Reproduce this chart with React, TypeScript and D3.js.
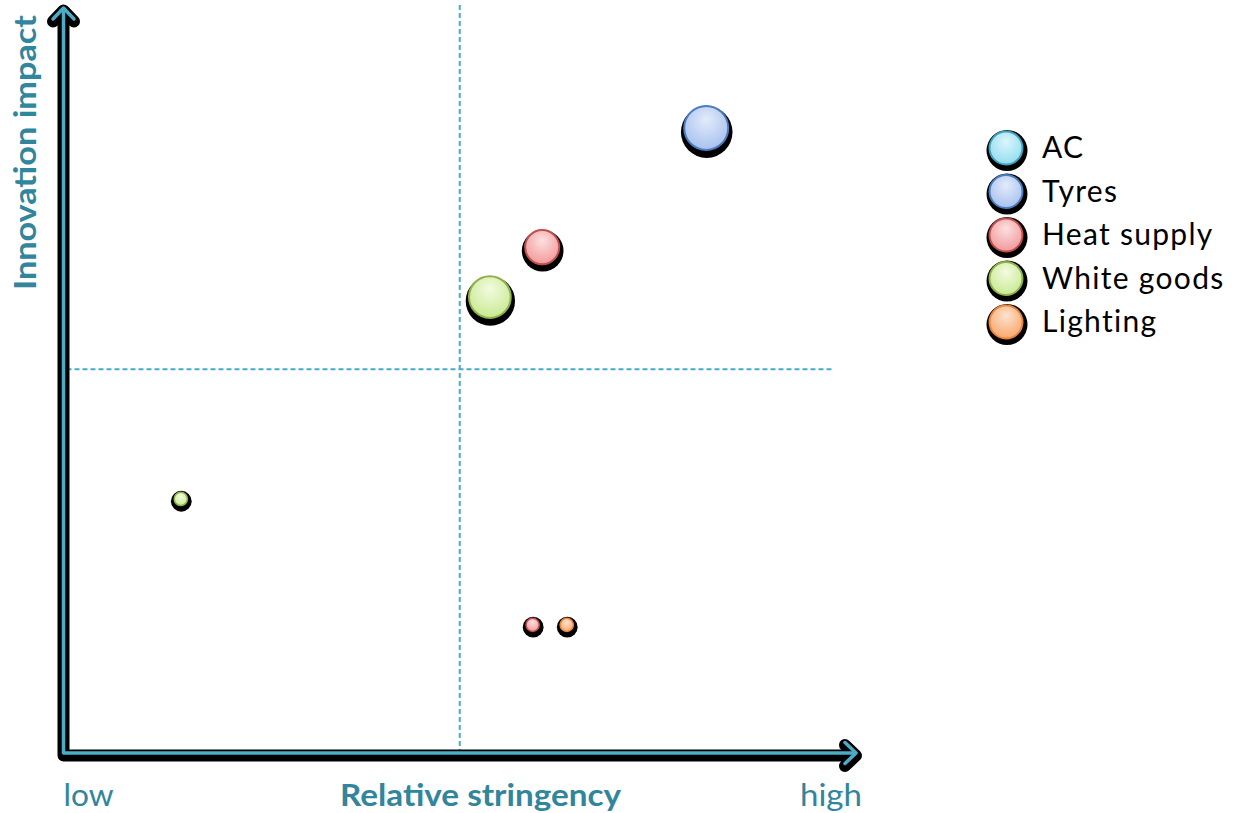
import React from "react";
import * as d3 from "d3";

// Sectors shown as bubbles: position = (stringency, innovation impact), size = bubble weight
const sectors = ["AC", "Tyres", "Heat supply", "White goods", "Lighting"];
const fillLight = ["#dcf6fd", "#e3ebfb", "#fde0e0", "#f3fbe2", "#fde3cf"];
const fillDark = ["#93dcef", "#a9c1ee", "#f29a9c", "#c9ea92", "#f8a96e"];
const strokeColors = ["#3fa3bd", "#4a7cc0", "#c0504d", "#8fb24c", "#e8873a"];

const bubbleSector = ["Tyres", "Heat supply", "White goods", "White goods", "Heat supply", "Lighting"];
const bubbleX = [81.1, 60.4, 53.8, 14.8, 59.2, 63.5];
const bubbleY = [83.9, 67.9, 61.2, 34.1, 17.2, 17.2];
const bubbleSize = [10, 6, 9, 0.9, 0.9, 0.9];

// Quadrant split values
const xSplit = 50;
const ySplit = 51.5;

const xLabels = ["low", "high"];
const xTitle = "Relative stringency";
const yTitle = "Innovation impact";

const W = 1238;
const H = 813;
const AXIS = "#4bacc6";
const TITLE = "#31859c";

export default function App() {
  const x = d3.scaleLinear().domain([0, 100]).range([63.5, 856]);
  const y = d3.scaleLinear().domain([0, 100]).range([753, 8]);
  const r = d3.scaleSqrt().domain([0, 10]).range([0, 22]);
  const color = d3.scaleOrdinal<string, number>().domain(sectors).range(sectors.map((_, i) => i));

  const x0 = x(0);
  const y0 = y(0);
  const axisPath = d3.path();
  axisPath.moveTo(x0, y(100) + 2);
  axisPath.lineTo(x0, y0);
  axisPath.lineTo(x(100) - 2, y0);
  const upArrow = `M${x0 - 10.5},${y(100) + 11} L${x0},${y(100)} L${x0 + 10.5},${y(100) + 11}`;
  const rightArrow = `M${x(100) - 11},${y0 - 10.5} L${x(100)},${y0} L${x(100) - 11},${y0 + 10.5}`;

  const bubble = (cx: number, cy: number, rad: number, idx: number, key: string) => (
    <g key={key}>
      <circle cx={cx + 0.5} cy={cy + rad * 0.12 + 1.5} r={rad + 3.8} fill="#000" />
      <circle cx={cx} cy={cy} r={rad} fill={`url(#grad${idx})`} stroke={strokeColors[idx]} strokeWidth={rad > 10 ? 2 : 1.5} />
    </g>
  );

  return (
    <div style={{ position: "absolute", left: 0, top: 0 }}>
      <svg width={W} height={H} style={{ display: "block", background: "#fff" }}>
        <defs>
          {sectors.map((s, i) => (
            <radialGradient key={s} id={`grad${i}`} cx="50%" cy="38%" r="62%" fx="50%" fy="30%">
              <stop offset="0%" stopColor={fillLight[i]} />
              <stop offset="70%" stopColor={d3.interpolateRgb(fillLight[i], fillDark[i])(0.7)} />
              <stop offset="100%" stopColor={fillDark[i]} />
            </radialGradient>
          ))}
        </defs>

        {/* quadrant dividers */}
        <line x1={x(xSplit)} x2={x(xSplit)} y1={5} y2={y0 - 2} stroke={AXIS} strokeWidth={2} strokeDasharray="5,3" />
        <line x1={x0 + 3} x2={834} y1={y(ySplit)} y2={y(ySplit)} stroke={AXIS} strokeWidth={2} strokeDasharray="5,3" />

        {/* axes: dark shadow under a teal line */}
        <g fill="none" strokeLinecap="round" strokeLinejoin="round">
          <g transform="translate(0,2.5)" stroke="#000" strokeWidth={12}>
            <path d={axisPath.toString()} />
            <path d={upArrow} />
            <path d={rightArrow} />
          </g>
          <g stroke={AXIS} strokeWidth={3.5}>
            <path d={axisPath.toString()} strokeLinecap="butt" />
            <path d={upArrow} />
            <path d={rightArrow} />
          </g>
        </g>

        {/* bubbles */}
        {bubbleSector.map((s, i) => bubble(x(bubbleX[i]), y(bubbleY[i]), r(bubbleSize[i]), color(s), `b${i}`))}

        {/* axis labels */}
        <g fontFamily="Lato, 'Open Sans', sans-serif" fill={TITLE}>
          <text x={x0} y={806} fontSize={30} textLength={50} lengthAdjust="spacingAndGlyphs">{xLabels[0]}</text>
          <text x={862} y={806} fontSize={30} textAnchor="end" textLength={62} lengthAdjust="spacingAndGlyphs">{xLabels[1]}</text>
          <text x={340} y={806} fontSize={30} fontWeight="bold" textLength={281} lengthAdjust="spacingAndGlyphs">{xTitle}</text>
          <text transform="translate(36,290) rotate(-90)" fontSize={30} fontWeight="bold" textLength={275} lengthAdjust="spacingAndGlyphs">{yTitle}</text>
        </g>

        {/* legend */}
        <g>
          {sectors.map((s, i) => {
            const ly = 148 + i * 43.5;
            return (
              <g key={s}>
                <circle cx={1007} cy={ly + 2.5} r={20.5} fill="#000" />
                <circle cx={1006} cy={ly} r={16.5} fill={`url(#grad${i})`} stroke={strokeColors[i]} strokeWidth={2} />
                <text x={1042} y={ly + 10} fontFamily="Lato, 'Open Sans', sans-serif" fontSize={30} letterSpacing={1.3} fill="#000">{s}</text>
              </g>
            );
          })}
        </g>
      </svg>
    </div>
  );
}
